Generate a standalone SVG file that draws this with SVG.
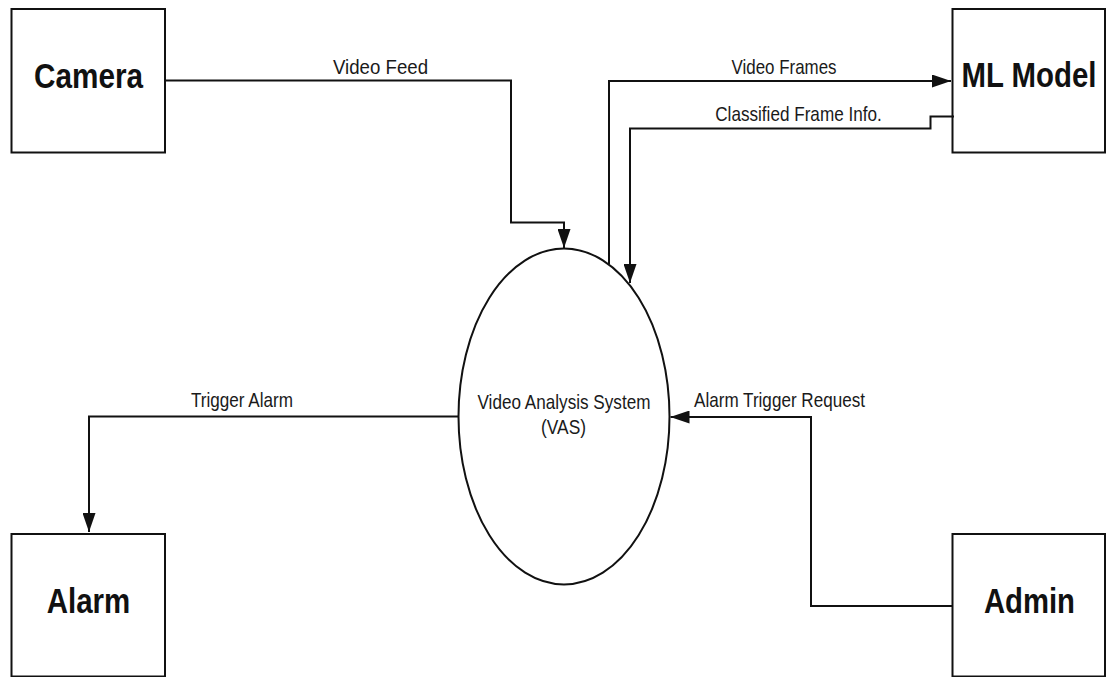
<svg xmlns="http://www.w3.org/2000/svg" width="1109" height="677" viewBox="0 0 1109 677">
  <style>
    .box { fill: #ffffff; stroke: #111111; stroke-width: 2; }
    .proc { fill: #ffffff; stroke: #111111; stroke-width: 2; }
    .title { font-family: "Liberation Sans", Arial, sans-serif; font-weight: bold; font-size: 35px; fill: #111111; text-anchor: middle; }
    .label { font-family: "Liberation Sans", Arial, sans-serif; font-size: 21px; fill: #1a1a1a; text-anchor: middle; }
    .flow { fill: none; stroke: #111111; stroke-width: 2; marker-end: url(#arrow); }
  </style>
  <defs>
    <marker id="arrow" markerUnits="userSpaceOnUse" markerWidth="19" markerHeight="13" refX="19" refY="6.5" orient="auto">
      <path d="M0,0 L19,6.5 L0,13 Z" fill="#111111"/>
    </marker>
  </defs>

  <rect width="1109" height="677" fill="#ffffff"/>

  <!-- external entities -->
  <g id="camera">
    <rect class="box" x="11.5" y="9" width="153.5" height="143.5"/>
    <text class="title" x="88.5" y="87.5" textLength="109" lengthAdjust="spacingAndGlyphs">Camera</text>
  </g>
  <g id="ml-model">
    <rect class="box" x="952.5" y="9" width="152.5" height="143.5"/>
    <text class="title" x="1029" y="87" textLength="135" lengthAdjust="spacingAndGlyphs">ML Model</text>
  </g>
  <g id="alarm">
    <rect class="box" x="11.5" y="534" width="153.5" height="142.5"/>
    <text class="title" x="88.5" y="612.5" textLength="83.5" lengthAdjust="spacingAndGlyphs">Alarm</text>
  </g>
  <g id="admin">
    <rect class="box" x="952.5" y="534" width="152.5" height="142.5"/>
    <text class="title" x="1029.5" y="612.5" textLength="91" lengthAdjust="spacingAndGlyphs">Admin</text>
  </g>

  <!-- central process -->
  <g id="vas">
    <ellipse class="proc" cx="564" cy="416.5" rx="105.5" ry="168"/>
    <text class="label" x="564" y="409" textLength="173" lengthAdjust="spacingAndGlyphs">Video Analysis System</text>
    <text class="label" x="563.5" y="433.5" textLength="45" lengthAdjust="spacingAndGlyphs">(VAS)</text>
  </g>

  <!-- data flows -->
  <g id="connectors">
    <path class="flow" d="M165,80.5 H511 V222.5 H564 V248"/>
    <text class="label" x="380.5" y="73.5" textLength="95" lengthAdjust="spacingAndGlyphs">Video Feed</text>

    <path class="flow" d="M609,264 V81 H951"/>
    <text class="label" x="784" y="73.5" textLength="105" lengthAdjust="spacingAndGlyphs">Video Frames</text>

    <path class="flow" d="M954,116.5 H930.5 V128.5 H630 V283"/>
    <text class="label" x="798.5" y="120.5" textLength="166.5" lengthAdjust="spacingAndGlyphs">Classified Frame Info.</text>

    <path class="flow" d="M458.5,416.5 H89 V532"/>
    <text class="label" x="242" y="407" textLength="102" lengthAdjust="spacingAndGlyphs">Trigger Alarm</text>

    <path class="flow" d="M953,606 H811 V417 H670.5"/>
    <text class="label" x="779.5" y="407" textLength="171" lengthAdjust="spacingAndGlyphs">Alarm Trigger Request</text>
  </g>
</svg>
